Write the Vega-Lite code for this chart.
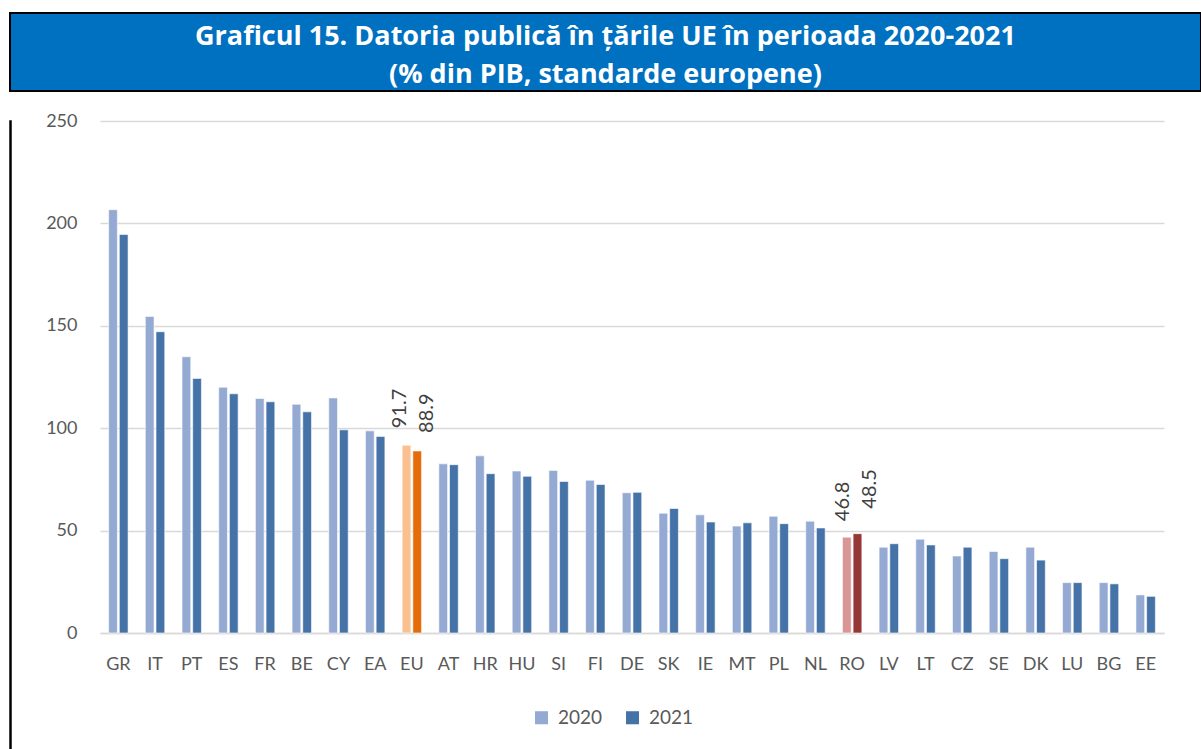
{
  "$schema": "https://vega.github.io/schema/vega-lite/v6.json",
  "padding": {"left": 9, "top": 12, "right": 0, "bottom": 0},
  "spacing": 20,
  "background": "white",
  "config": {
    "font": "Lato",
    "view": {"stroke": null},
    "axis": {"labelFont": "Lato", "labelColor": "#595959", "labelFontSize": 18, "title": null}
  },
  "datasets": {
    "debt": [
      {"c": "GR", "y": "2020", "v": 206.7}, {"c": "GR", "y": "2021", "v": 194.6},
      {"c": "IT", "y": "2020", "v": 154.6}, {"c": "IT", "y": "2021", "v": 147.1},
      {"c": "PT", "y": "2020", "v": 134.9}, {"c": "PT", "y": "2021", "v": 124.3},
      {"c": "ES", "y": "2020", "v": 120.0}, {"c": "ES", "y": "2021", "v": 116.8},
      {"c": "FR", "y": "2020", "v": 114.5}, {"c": "FR", "y": "2021", "v": 112.9},
      {"c": "BE", "y": "2020", "v": 111.7}, {"c": "BE", "y": "2021", "v": 108.0},
      {"c": "CY", "y": "2020", "v": 114.8}, {"c": "CY", "y": "2021", "v": 99.2},
      {"c": "EA", "y": "2020", "v": 98.7}, {"c": "EA", "y": "2021", "v": 96.0},
      {"c": "EU", "y": "2020", "v": 91.7}, {"c": "EU", "y": "2021", "v": 88.9},
      {"c": "AT", "y": "2020", "v": 82.6}, {"c": "AT", "y": "2021", "v": 82.2},
      {"c": "HR", "y": "2020", "v": 86.5}, {"c": "HR", "y": "2021", "v": 77.8},
      {"c": "HU", "y": "2020", "v": 79.1}, {"c": "HU", "y": "2021", "v": 76.5},
      {"c": "SI", "y": "2020", "v": 79.4}, {"c": "SI", "y": "2021", "v": 74.0},
      {"c": "FI", "y": "2020", "v": 74.6}, {"c": "FI", "y": "2021", "v": 72.5},
      {"c": "DE", "y": "2020", "v": 68.5}, {"c": "DE", "y": "2021", "v": 68.7},
      {"c": "SK", "y": "2020", "v": 58.5}, {"c": "SK", "y": "2021", "v": 60.8},
      {"c": "IE", "y": "2020", "v": 57.7}, {"c": "IE", "y": "2021", "v": 54.2},
      {"c": "MT", "y": "2020", "v": 52.2}, {"c": "MT", "y": "2021", "v": 53.8},
      {"c": "PL", "y": "2020", "v": 57.0}, {"c": "PL", "y": "2021", "v": 53.4},
      {"c": "NL", "y": "2020", "v": 54.6}, {"c": "NL", "y": "2021", "v": 51.3},
      {"c": "RO", "y": "2020", "v": 46.8}, {"c": "RO", "y": "2021", "v": 48.5},
      {"c": "LV", "y": "2020", "v": 41.9}, {"c": "LV", "y": "2021", "v": 43.6},
      {"c": "LT", "y": "2020", "v": 45.8}, {"c": "LT", "y": "2021", "v": 43.0},
      {"c": "CZ", "y": "2020", "v": 37.6}, {"c": "CZ", "y": "2021", "v": 41.9},
      {"c": "SE", "y": "2020", "v": 39.8}, {"c": "SE", "y": "2021", "v": 36.3},
      {"c": "DK", "y": "2020", "v": 41.9}, {"c": "DK", "y": "2021", "v": 35.6},
      {"c": "LU", "y": "2020", "v": 24.6}, {"c": "LU", "y": "2021", "v": 24.6},
      {"c": "BG", "y": "2020", "v": 24.6}, {"c": "BG", "y": "2021", "v": 24.0},
      {"c": "EE", "y": "2020", "v": 18.6}, {"c": "EE", "y": "2021", "v": 17.9}
    ]
  },
  "vconcat": [
    {
      "width": 1191,
      "height": 78,
      "data": {"values": [{}]},
      "view": {"fill": "#0070C0", "stroke": "black", "strokeWidth": 2},
      "mark": {
        "type": "text",
        "text": ["Graficul 15. Datoria publică în țările UE în perioada 2020-2021", "(% din PIB, standarde europene)"],
        "color": "white",
        "font": "Open Sans",
        "fontWeight": "bold",
        "fontSize": 27,
        "lineHeight": 38,
        "align": "center",
        "baseline": "middle",
        "dy": -15
      },
      "encoding": {}
    },
    {
      "spacing": 33,
      "hconcat": [
        {
          "width": 1,
          "height": 628,
          "data": {"values": [{}]},
          "view": {"stroke": "black", "strokeWidth": 1.5, "fill": null},
          "mark": {"type": "text", "text": ""},
          "encoding": {}
        },
        {
          "width": 1064,
          "height": 512,
          "data": {"name": "debt"},
          "transform": [
            {"calculate": "(datum.c == 'EU' || datum.c == 'RO') ? datum.c + datum.y : datum.y", "as": "grp"}
          ],
          "encoding": {
            "x": {
              "field": "c", "type": "nominal", "sort": null,
              "scale": {"paddingInner": 0.47, "paddingOuter": 0.235},
              "axis": {"labelAngle": 0, "ticks": false, "domain": true, "domainColor": "#D9D9D9", "domainWidth": 1.5, "labelPadding": 22, "grid": false}
            },
            "xOffset": {"field": "y", "type": "nominal", "scale": {"paddingInner": 0.18, "paddingOuter": 0}},
            "y": {
              "field": "v", "type": "quantitative",
              "scale": {"domain": [0, 250], "nice": false},
              "axis": {"values": [0, 50, 100, 150, 200, 250], "domain": false, "ticks": false, "gridColor": "#D9D9D9", "gridWidth": 1.5, "labelPadding": 23}
            }
          },
          "layer": [
            {
              "mark": {"type": "bar", "stroke": "white", "strokeWidth": 0.6},
              "encoding": {
                "color": {
                  "field": "grp", "type": "nominal",
                  "scale": {
                    "domain": ["2020", "2021", "EU2020", "EU2021", "RO2020", "RO2021"],
                    "range": ["#95AAD3", "#4573A7", "#FBC08F", "#E46C0A", "#D99694", "#953735"]
                  },
                  "legend": {
                    "values": ["2020", "2021"],
                    "title": null,
                    "orient": "none",
                    "legendX": 522,
                    "legendY": 695,
                    "direction": "horizontal",
                    "symbolType": "square",
                    "symbolSize": 170,
                    "symbolStrokeWidth": 0,
                    "labelFontSize": 19,
                    "labelColor": "#595959",
                    "labelFont": "Lato",
                    "labelOffset": 7,
                    "columnPadding": 20
                  }
                }
              }
            },
            {
              "transform": [{"filter": "datum.c == 'EU' && datum.y == '2020'"}],
              "mark": {"type": "text", "angle": 270, "align": "left", "baseline": "middle", "dx": 17, "dy": -7, "fontSize": 20, "color": "#404040"},
              "encoding": {"text": {"field": "v", "type": "quantitative", "format": ".1f"}}
            },
            {
              "transform": [{"filter": "datum.c == 'EU' && datum.y == '2021'"}],
              "mark": {"type": "text", "angle": 270, "align": "left", "baseline": "middle", "dx": 18, "dy": 10, "fontSize": 20, "color": "#404040"},
              "encoding": {"text": {"field": "v", "type": "quantitative", "format": ".1f"}}
            },
            {
              "transform": [{"filter": "datum.c == 'RO' && datum.y == '2020'"}],
              "mark": {"type": "text", "angle": 270, "align": "left", "baseline": "middle", "dx": 16, "dy": -4, "fontSize": 20, "color": "#404040"},
              "encoding": {"text": {"field": "v", "type": "quantitative", "format": ".1f"}}
            },
            {
              "transform": [{"filter": "datum.c == 'RO' && datum.y == '2021'"}],
              "mark": {"type": "text", "angle": 270, "align": "left", "baseline": "middle", "dx": 25, "dy": 13, "fontSize": 20, "color": "#404040"},
              "encoding": {"text": {"field": "v", "type": "quantitative", "format": ".1f"}}
            }
          ]
        }
      ]
    }
  ]
}
